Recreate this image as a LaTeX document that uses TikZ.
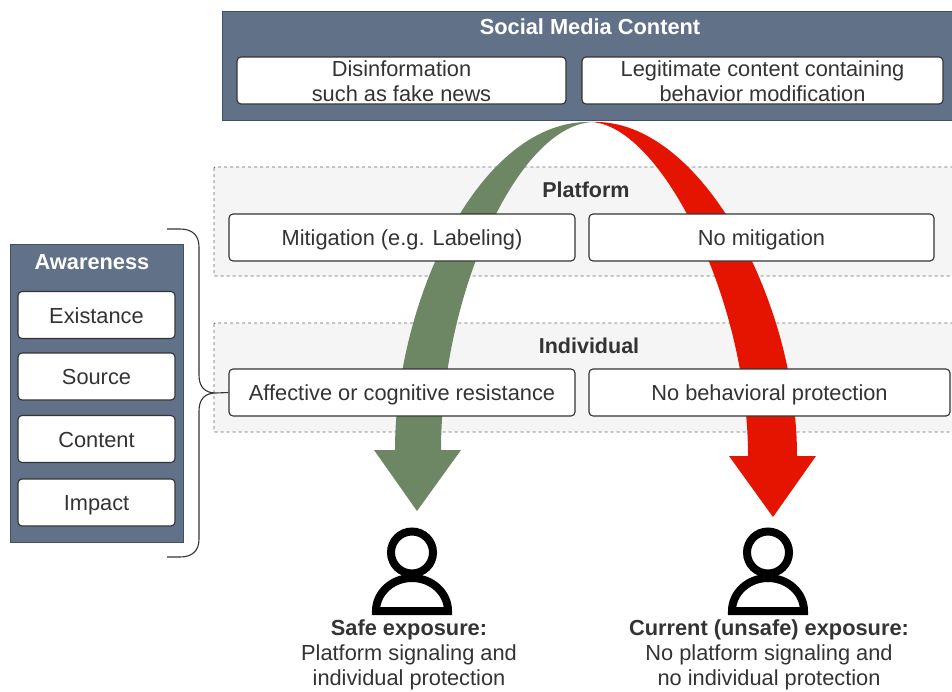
\documentclass[tikz,border=0pt]{standalone}
\usepackage{fontspec}
\setmainfont{Liberation Sans}
\definecolor{slate}{HTML}{607188}
\definecolor{slateline}{HTML}{3F5066}
\definecolor{safegreen}{HTML}{6D8764}
\definecolor{unsafered}{HTML}{E51400}
\definecolor{inktext}{HTML}{333333}
\tikzset{
	txt/.style={font=\fontsize{21.8}{25}\selectfont, text=inktext, align=center, inner sep=0pt},
	itembox/.style={txt, draw=black!80, fill=white, line width=1.1pt, rounded corners=4pt, minimum height=47pt},
	oneline/.style={text height=16pt, text depth=0pt},
	twoline/.style={text height=42pt, text depth=0pt},
	panel/.style={draw=black!60, fill=black!4, dashed, line width=0.9pt, rounded corners=1pt},
	slatebox/.style={draw=slateline, fill=slate, line width=0.9pt},
	head/.style={txt, text=white, font=\fontsize{21.8}{25}\selectfont\bfseries},
	grouphead/.style={txt, font=\fontsize{21.5}{25}\selectfont\bfseries}
}

\begin{document}
\begin{tikzpicture}[x=1pt, y=-1pt]
	\useasboundingbox (0,0) rectangle (952,691);

	% grey layers behind the arrows
	\draw[panel] (214,167) rectangle (956,276);
	\draw[panel] (214,323) rectangle (956,432);

	% the two exposure arrows
	\coordinate (apex) at (592,122);
	\fill[safegreen] (apex) .. controls (480,118) and (395,300) .. (395,450) -- (374,450) -- (417,511) -- (461,450) -- (441,450) .. controls (441,300) and (515,127) .. (apex);
	\fill[unsafered] (apex) .. controls (700,118) and (797,300) .. (797,456) -- (816,456) -- (773,517) -- (729,456) -- (748,456) .. controls (748,300) and (662,127) .. (apex);

	% social media content
	\draw[slatebox] (222,11) rectangle (956,120);
	\node[head] (media) at (590,27) {Social Media Content};
	\node[itembox, twoline, minimum width=329pt] (disinfo) at (401.5,80.5) {Disinformation\\such as fake news};
	\node[itembox, twoline, minimum width=361pt] (legit) at (762.5,80.5) {Legitimate content containing\\behavior modification};

	% platform
	\node[grouphead] (platform) at (586,190) {Platform};
	\node[itembox, oneline, minimum width=346pt] (mitigation) at (402,237.5) {Mitigation (e.g. Labeling)};
	\node[itembox, oneline, minimum width=345pt] (nomitigation) at (761.5,237.5) {No mitigation};

	% individual
	\node[grouphead] (individual) at (589,345.5) {Individual};
	\node[itembox, oneline, minimum width=346pt] (resistance) at (402,392.5) {Affective or cognitive resistance};
	\node[itembox, oneline, minimum width=361pt] (noprotection) at (769.5,392.5) {No behavioral protection};

	% awareness
	\draw[slatebox] (10,244) rectangle (183,542);
	\node[head] (awareness) at (92,262) {Awareness};
	\foreach \name/\y in {Existance/315, Source/376.5, Content/439, Impact/502.5} {
		\node[itembox, oneline, minimum width=157pt] (\name) at (96.5,\y) {\name};
	}

	% brace from awareness to the resistance box
	\draw[black!80, line width=1.1pt] (167,229) -- (180,229) .. controls (192,229) and (199,235) .. (199,247) -- (199,375) .. controls (199,387) and (205,393) .. (216,393) -- (resistance.west) (216,393) .. controls (205,393) and (199,399) .. (199,411) -- (199,539) .. controls (199,551) and (192,557) .. (180,557) -- (167,557);

	% person icons
	\foreach \px in {412,768} {
		\draw[black, line width=8pt] (\px,552.5) circle (21);
		\draw[black, line width=8pt, line join=miter] (\px-36,611) arc[start angle=180, end angle=0, x radius=36, y radius=-33] -- cycle;
	}

	% captions
	\node[txt] (safe) at (409,655) {\textbf{Safe exposure:}\\Platform signaling and\\individual protection};
	\node[txt] (current) at (769,655) {\textbf{Current (unsafe) exposure:}\\No platform signaling and\\no individual protection};
\end{tikzpicture}
\end{document}
